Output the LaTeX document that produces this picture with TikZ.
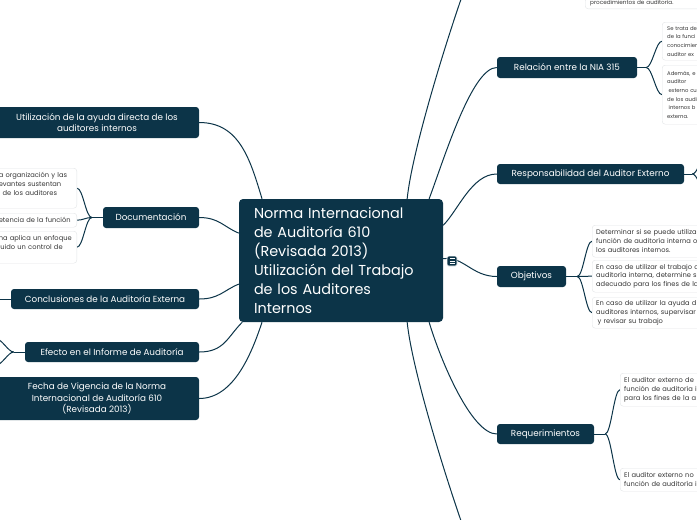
\documentclass[tikz,border=0pt]{standalone}
\usepackage{fontspec}
\setmainfont{Poppins}
\usetikzlibrary{positioning, backgrounds}
\definecolor{N0}{RGB}{12, 52, 72}
\definecolor{G0}{RGB}{226, 228, 230}
\definecolor{T0}{RGB}{55, 55, 55}
\tikzset{
  root/.style={
    rectangle, rounded corners=4pt,
    fill=N0, text=white,
    inner xsep=15pt, inner ysep=0pt,
    minimum width=204pt, minimum height=123pt,
    text width=174pt, align=left,
    font=\fontsize{14.4}{19}\selectfont
  },
  topic/.style={
    rectangle, rounded corners=3pt,
    fill=N0, text=white, inner sep=0pt,
    align=center, font=\fontsize{8.8}{11.5}\selectfont
  },
  leaf/.style={
    rectangle, rounded corners=3pt,
    fill=white, draw=G0, text=T0,
    inner ysep=0pt, align=left,
    font=\fontsize{6.7}{8.8}\selectfont
  },
  tiny leaf/.style={leaf, font=\fontsize{5.3}{8.7}\selectfont},
  link/.style={draw=N0, line width=1pt},
  noteicon/.style={
    rectangle, rounded corners=1.5pt,
    fill=N0, draw=white, line width=0.6pt,
    minimum size=10pt, inner sep=0pt
  },
}

\begin{document}
\begin{tikzpicture}[x=1pt, y=-1pt]

  \useasboundingbox (0,0) rectangle (697,520);
  \clip (0,0) rectangle (697,520);

  %% ── Central topic ──────────────────────────────────────────────────────────

  \node[root] (root) at (341,260.5)
    {Norma Internacional\\de Auditoría 610\\(Revisada 2013)\\Utilización del Trabajo\\de los Auditores\\Internos};

  %% ── Left topics ────────────────────────────────────────────────────────────

  \node[topic, minimum width=204pt, minimum height=31pt] (util) at (97,122.5)
    {Utilización de la ayuda directa de los\\auditores internos};
  \node[topic, minimum width=96pt, minimum height=21pt] (doc) at (151,217.5)
    {Documentación};
  \node[topic, minimum width=188pt, minimum height=20pt] (concl) at (105,299)
    {Conclusiones de la Auditoría Externa};
  \node[topic, minimum width=174pt, minimum height=20pt] (efecto) at (112,352)
    {Efecto en el Informe de Auditoría};
  \node[topic, minimum width=204pt, minimum height=43pt] (fecha) at (97,398.5)
    {Fecha de Vigencia de la Norma\\Internacional de Auditoría 610\\(Revisada 2013)};

  % Documentación leaves
  \node[leaf, anchor=north east, text width=76pt, inner xsep=2pt, minimum height=40pt] (doc1)
    at (77,168) {a organización y las\\evantes sustentan\\l de los auditores\\\mbox{}};
  \node[leaf, anchor=north east, text width=76pt, inner xsep=2pt, minimum height=14pt] (doc2)
    at (77,213) {etencia de la función};
  \node[leaf, anchor=north east, text width=76pt, inner xsep=2pt, minimum height=32pt] (doc3)
    at (77,231) {na aplica un enfoque\\luido un control de\\\mbox{}};

  %% ── Right topics ───────────────────────────────────────────────────────────

  \node[topic, minimum width=140pt, minimum height=21pt] (rel) at (567,67.5)
    {Relación entre la NIA 315};
  \node[topic, minimum width=187pt, minimum height=20pt] (resp) at (590.5,174)
    {Responsabilidad del Auditor Externo};
  \node[topic, minimum width=69pt, minimum height=21pt] (obj) at (531.5,276.5)
    {Objetivos};
  \node[topic, minimum width=97pt, minimum height=20pt] (req) at (545.5,434)
    {Requerimientos};

  % Leaf cut by the top edge
  \node[leaf, anchor=south west, text width=120pt, inner xsep=5pt, inner ysep=2.5pt,
        font=\fontsize{5.7}{8}\selectfont] (proc)
    at (585,9) {procedimientos de auditoría.};

  % Relación leaves
  \node[tiny leaf, anchor=north west, text width=60pt, inner xsep=5pt, minimum height=38pt] (rel1)
    at (662,22) {Se trata de\\de la funci\\conocimien\\auditor ex};
  \node[tiny leaf, anchor=north west, text width=60pt, inner xsep=5pt, minimum height=59pt] (rel2)
    at (662,65) {Además, e\\auditor\\\hspace*{1.5pt}externo cu\\de los audi\\\hspace*{1.5pt}internos b\\externa.};

  % Objetivos leaves
  \node[leaf, anchor=north west, text width=120pt, inner xsep=4pt, minimum height=32pt] (obj1)
    at (592,225) {Determinar si se puede utiliza\\función de auditoría interna o\\los auditores internos.};
  \node[leaf, anchor=north west, text width=120pt, inner xsep=4pt, minimum height=32pt] (obj2)
    at (592,260) {En caso de utilizar el trabajo d\\auditoría interna, determine s\\adecuado para los fines de la};
  \node[leaf, anchor=north west, text width=120pt, inner xsep=4pt, minimum height=31pt] (obj3)
    at (592,297) {En caso de utilizar la ayuda d\\auditores internos, supervisar\\\hspace*{1.5pt}y revisar su trabajo};

  % Requerimientos leaves
  \node[leaf, anchor=north west, text width=100pt, inner xsep=4pt, minimum height=33pt] (req1)
    at (620,373) {El auditor externo de\\función de auditoría i\\para los fines de la a};
  \node[leaf, anchor=north west, text width=100pt, inner xsep=4pt, minimum height=23pt] (req2)
    at (620,468) {El auditor externo no\\función de auditoría i};

  %% ── Fork points and hidden ends ────────────────────────────────────────────

  \coordinate (docFork)  at ([xshift=-11pt]doc.west);
  \coordinate (efFork)   at ([xshift=-11pt]efecto.west);
  \coordinate (relFork)  at ([xshift=9pt]rel.east);
  \coordinate (respFork) at ([xshift=8pt]resp.east);
  \coordinate (objFork)  at ([xshift=11pt]obj.east);
  \coordinate (reqFork)  at ([xshift=11pt]req.east);

  \coordinate (offTop)   at (466,-15);
  \coordinate (offBot)   at (466,535);
  \coordinate (conclOff) at (-6,299);
  \coordinate (efOff1)   at (-6,338);
  \coordinate (efOff2)   at (-6,366);
  \coordinate (respOff1) at (706,156);
  \coordinate (respOff2) at (706,192);

  %% ── Connectors ─────────────────────────────────────────────────────────────

  \begin{scope}[on background layer]
    % left side
    \draw[link] (util.east)   .. controls +(40,0) and +(-12,-40) .. (root.142);
    \draw[link] (doc.east)    .. controls +(20,0) and +(-15,-6)  .. (root.165);
    \draw[link] (concl.east)  .. controls +(20,0) and +(-15,6)   .. (root.193);
    \draw[link] (efecto.east) .. controls +(25,0) and +(-15,15)  .. (root.212);
    \draw[link] (fecha.east)  .. controls +(35,0) and +(-10,30)  .. (root.218);

    % right side
    \draw[link] (root.43)  .. controls +(5,-49) and +(-18,50) .. (offTop);
    \draw[link] (root.317) .. controls +(5,49)  and +(-18,-50) .. (offBot);
    \draw[link] (rel.west)  .. controls +(-25,0) and +(15,-40) .. (root.35);
    \draw[link] (resp.west) .. controls +(-25,0) and +(15,-15) .. (root.19);
    \draw[link] (obj.west)  .. controls +(-25,0) and +(20,-3)  .. (root.1);
    \draw[link] (req.west)  .. controls +(-25,0) and +(12,40)  .. (root.325);

    % brackets to leaves
    \draw[link] (doc.west) -- (docFork);
    \foreach \c in {doc1, doc2, doc3}
      \draw[link] (docFork) .. controls +(-6,0) and +(6,0) .. (\c.east);

    \draw[link] (efecto.west) -- (efFork);
    \foreach \c in {efOff1, efOff2}
      \draw[link] (efFork) .. controls +(-6,0) and +(8,0) .. (\c);

    \draw[link] (concl.west) -- (conclOff);

    \draw[link] (rel.east) -- (relFork);
    \foreach \c in {rel1, rel2}
      \draw[link] (relFork) .. controls +(6,0) and +(-6,0) .. (\c.west);

    \draw[link] (resp.east) -- (respFork);
    \foreach \c in {respOff1, respOff2}
      \draw[link] (respFork) .. controls +(6,0) and +(-6,0) .. (\c);

    \draw[link] (obj.east) -- (objFork);
    \foreach \c in {obj1, obj2, obj3}
      \draw[link] (objFork) .. controls +(6,0) and +(-6,0) .. (\c.west);

    \draw[link] (req.east) -- (reqFork);
    \foreach \c in {req1, req2}
      \draw[link] (reqFork) .. controls +(6,0) and +(-6,0) .. (\c.west);
  \end{scope}

  %% ── Note icon ──────────────────────────────────────────────────────────────

  \node[noteicon] (note) at (452,261) {};
  \foreach \dy in {-2.2, 0, 2.2}
    \draw[white, line width=0.7pt]
      ([xshift=-2.5pt, yshift=\dy pt]note.center) -- ([xshift=2.5pt, yshift=\dy pt]note.center);

\end{tikzpicture}
\end{document}
